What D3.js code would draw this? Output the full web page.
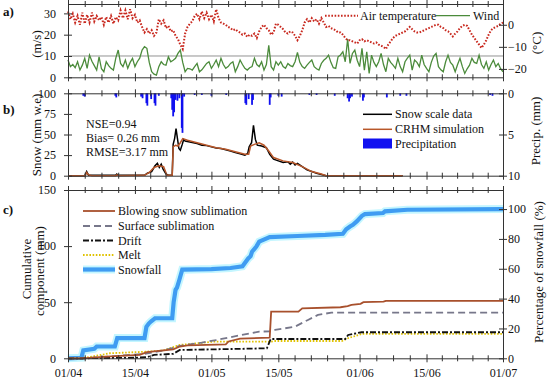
<!DOCTYPE html>
<html>
<head>
<meta charset="utf-8">
<script src="https://d3js.org/d3.v7.min.js"></script>
<style>
body { margin: 0; background: #fff; }
svg text { font-family: "Liberation Serif", "Times New Roman", serif; fill: #111; }
</style>
</head>
<body>
<div id="chart"></div>
<script>
// dates on the x axis (days from 1 April)
var tickDays = [0, 14, 30, 44, 61, 75, 91];
var tickLabels = ["01/04", "15/04", "01/05", "15/05", "01/06", "15/06", "01/07"];

// a) half-daily wind (m/s) and air temperature (C), starting 1 April
var windMs = [
  8.1,5,6,4.5,7.3,3.4,5.7,8.9,4.2,10.4,
  7.5,5.5,3.4,9.6,4,2.6,7.3,5.5,4.2,3.4,
  9,12.8,6.5,5,8.1,4.2,7,8.9,5,7.3,
  9,12.8,14.4,13.6,7,2.6,1.5,1,5,7.3,
  6,5.7,9.6,7.3,8,8.9,11.2,12.8,7,2.6,
  4.2,4,3.4,5,6.5,2.6,3.5,5,6.5,7.3,
  4.2,6,8.1,5,8.9,6,4.2,5,6.5,7.3,
  2.6,5,8.1,6,4.2,3.4,4.5,5,8.9,6,
  5,7.3,3.4,6,15,5,3.4,7.3,5.7,7.3,
  5,4.2,6.5,5.5,5,7.3,11.7,7,5,4.2,
  5.7,7,8.1,5,4,3.4,6.5,8,8.9,10.4,
  7,4.5,4.2,9.6,10.5,12,7.3,18,6.5,11.2,
  12.8,8,5,13.6,3.4,12,1.8,10.4,7,5,
  7.3,11.2,6,2.6,8.9,7,5.7,4.2,8.9,5,
  2.6,7.3,9,10.4,3.4,8.1,7,5,10.4,6,
  4.2,2.6,7,10,11.2,5,3.5,2.6,7.3,10.4,
  7,5.7,2.6,6,8.9,5,1.8,4,5.7,8.9,
  7,6.5,10.4,6,4.2,7.3,3.4,6,8.1,5,
  6.5,4,2.6
];
var airTempC = [
  6,2.5,5,1,4,0,5.5,0.5,4.5,1,
  5.5,1.5,4,2,3.5,0,3.5,1,4,0.5,
  3.5,2,6.5,3,6.5,2.5,7,3,4.5,1,
  2,-1,-3.5,-2,-4,-2.5,-5,-3.5,2.5,0.5,
  2,-1.5,-0.5,-3,-2.5,-5,-6.5,-9,-11,-4,
  -1,0.5,1.5,4,5,2.5,6,3,5.5,2.5,
  4.5,1.5,7,3,1,0.5,0,-1,-1.5,-2.5,
  -2,-3,-3.5,-4.5,-4,-5.5,-4.5,-5,-4,-6,
  -3,-1,0,-1.5,-2.5,-4.5,-3.5,0.5,0,-1,
  -2,-3.5,-4,-3,-3.5,-5,-7,-5,-2.5,1,
  2.5,1,3,1.5,2.5,0.5,3,1,-1,-0.5,
  -1.5,-2,-2.5,-3.5,-3.5,-4.5,-6,-7,-7,-7.5,
  -8,-8.5,-7,-6.5,-7.5,-7,-7.5,-8,-8.5,-8,
  -9,-9.5,-10,-11,-9,-7.5,-6,-5,-4.5,-4,
  -3.5,-3,-2,-1,-2,-3,-3.5,-3.5,-3,-2.5,
  -2,-1.5,-1,-0.5,0,0,-1,-1.5,-2.5,-3,
  -4,-5.3,-4,-3,-1.5,-0.5,0,-0.5,-2.5,-4.5,
  -6,-7.5,-9,-10.5,-9,-7,-4.5,-2.5,-1.5,-1,
  -0.5,0.5,1
];

// b) snow water equivalent (mm) and precipitation (mm)
var obsDay  = [0,3.5,3.9,4.3,10,10.2,10.5,16,16.6,17.5,18.2,18.7,19.1,19.5,19.9,20.5,21,21.8,22,22.3,22.6,22.9,23.2,23.5,23.9,24.2,24.5,25.5,27,28,29,30,31,32,33,34,35,36,37,37.6,37.9,38.4,38.8,39.2,39.6,40.5,41.5,42.2,43,44,45,46,46.5,47,47.5,48,49,50,51,52,53,54,70];
var obsSnow = [0,0,5,0.5,0.5,2,0.5,0.5,3,5,12,15,10,14,8,2,0.5,0.5,38,45,57,45,33,31,38,44,42,41,39,37,36.5,35,33.5,33,31.5,30,28,26.5,25,27,35,40,61,44,37,36,34,26,20,18,16,17,14,16.5,13,15,11,7,5,3,1.5,0,0];
var simDay  = [0,3.6,3.9,4.3,5,10,10.2,10.6,16,17,18,19,20,20.7,21.8,22,22.5,23,23.5,24,25,27,29,31,33,35,37,37.8,38.2,39,40,41,42,43,45,47,49,51,53,54,70];
var simSnow = [0,0,4,1,0,0,1,0,0.5,4,10,12,11,0.5,0.5,35,37,36,40,45,43,40,37,34,32,29,26,26,36,38,40,37,30,22,18,16,11,5,2,0,0];
var precipDay = [3.2,3.5,9.9,10.1,15.3,15.6,16.4,16.6,17.4,18.1,18.3,19,21.6,21.8,22,22.2,22.5,22.9,23.3,23.8,23.95,24.3,26.5,28,30,33.1,37.1,37.3,37.8,38.5,38.7,42.2,42.4,44,44.7,50.5,52,55.8,58.5,58.8,59,59.4,61.7,61.9,66.7,69.5,70.8,88.3,88.8];
var precipMm  = [0.3,0.4,0.3,0.5,0.4,0.6,1.2,1.5,0.7,1.2,1.5,0.3,0.6,2,2.8,2.3,0.8,0.9,0.6,4.2,4.8,0.4,0.2,0.2,0.3,0.2,1.2,1.4,0.7,1.4,0.8,1.4,0.5,0.3,0.4,0.2,0.2,0.3,0.6,1,0.6,0.4,0.9,0.5,0.5,0.3,0.3,0.2,0.3];

// c) cumulative components (mm)
var blowDay = [0,3,8,15,16.5,22,23.4,25,33,33.6,36,42.2,42.5,48.2,49,57,58.5,59.3,61.2,61.8,66,66.5,91];
var blowMm  = [0,0,1.5,3,5.5,8,10.5,11.5,12.5,15,17.5,18.5,41.6,41.6,44.5,45.5,46.5,47.6,48.5,50,50.5,51.2,51.2];
var surfDay = [0,3,10,16,20,23.4,28,31,34.6,40,42.3,43.3,47.5,50.2,52.3,55.1,91];
var surfMm  = [0,0,2,4,7,11,14,16.3,19.3,23.8,24,25.3,28.2,34.2,38.7,40.7,40.7];
var driftDay = [0,3,14,16.5,18,22,23.4,41.6,42.4,58,58.6,61.4,91];
var driftMm  = [0,0,0.5,1,3,4,7.4,8.9,17.2,17.2,20.8,23.2,23.2];
var meltDay = [0,3,8.8,16.5,20,23.4,30.4,42.3,43.3,57.3,58.6,61.4,91];
var meltMm  = [0,0,4.5,5.9,7,11.9,14.8,14.8,15.4,15.4,17.9,21.7,21.7];
var snowfallDay = [0,2.8,3.2,5.5,6,9.8,10.3,16,16.4,16.9,17.4,18.2,21.8,22.1,22.5,22.8,23.3,23.9,30,34,36.5,37,37.7,38.2,38.5,39.4,40,42.2,48,53.8,57.5,58.2,59,59.6,60.4,61.5,62.1,65.9,66.3,71,91];
var snowfallMm  = [0,0.5,7,8.5,10.5,10.5,18,18,28,31,33,35.7,35.7,50,61,63,70,79,79.5,80.5,82,85,89,91,95,99.5,104,108,109,110,111,115,117.5,119,122,127,128.5,129.5,131,132.4,133];

var width = 550, height = 381;
var svg = d3.select("#chart").append("svg")
    .attr("width", width)
    .attr("height", height);

var x = d3.scaleLinear().domain([0, 91]).range([68, 503]);
var aTop = 4, aBot = 77.3, bTop = 93.3, bBot = 175.7, cTop = 190, cBot = 358.3;

var minorDays = [];
tickDays.forEach(function(d, i) {
    if (i == 0) return;
    var a = tickDays[i - 1], n = Math.round((d - a) / 3.3);
    for (var k = 1; k < n; k++) minorDays.push(a + (d - a) * k / n);
});

function styleAxis(g) {
    g.attr("font-family", "Liberation Serif, Times New Roman, serif")
     .attr("font-size", 12);
    g.selectAll("path, line").attr("stroke", "#333");
    g.selectAll("text").attr("fill", "#111");
}

// horizontal edge with crossing ticks
function xEdge(y, labels) {
    var g1 = svg.append("g").attr("transform", "translate(0," + y + ")")
        .call(d3.axisBottom(x).tickValues(tickDays).tickSize(4).tickSizeOuter(0).tickPadding(6)
            .tickFormat(function(d, i) { return labels ? tickLabels[i] : ""; }))
        .call(styleAxis);
    g1.selectAll(".tick line").attr("y1", -4);
    var g2 = svg.append("g").attr("transform", "translate(0," + y + ")")
        .call(d3.axisBottom(x).tickValues(minorDays).tickSize(3).tickSizeOuter(0).tickFormat(""))
        .call(styleAxis);
    g2.selectAll(".tick line").attr("y1", -3);
    g2.select(".domain").remove();
}

function yLeft(scale, values) {
    var g = svg.append("g").attr("transform", "translate(68,0)")
        .call(d3.axisLeft(scale).tickValues(values).tickSize(4).tickSizeOuter(0).tickPadding(8))
        .call(styleAxis);
    g.selectAll(".tick line").attr("x1", 4);
}

function yRight(scale, values) {
    var g = svg.append("g").attr("transform", "translate(503,0)")
        .call(d3.axisRight(scale).tickValues(values).tickSize(4).tickSizeOuter(0).tickPadding(1))
        .call(styleAxis);
    g.selectAll(".tick line").attr("x1", -4);
}

// ---------- a) ----------
var wind = d3.scaleLinear().domain([0, 34.4]).range([aBot, aTop]);
var temp = d3.scaleLinear().domain([-23.8, 9.4]).range([aBot, aTop]);

svg.append("line").attr("x1", 68).attr("x2", 503)
    .attr("y1", wind(10)).attr("y2", wind(10))
    .attr("stroke", "#777").attr("stroke-width", 0.8);

svg.append("path").datum(windMs)
    .attr("fill", "none").attr("stroke", "#4b8b3b").attr("stroke-width", 1.3)
    .attr("d", d3.line().x(function(d, i) { return x(i * 0.5); }).y(function(d) { return wind(d); }));

svg.append("path").datum(airTempC)
    .attr("fill", "none").attr("stroke", "#c8281e").attr("stroke-width", 2)
    .attr("stroke-dasharray", "1.6,1.6")
    .attr("d", d3.line().x(function(d, i) { return x(i * 0.5); }).y(function(d) { return temp(d); }));

xEdge(aTop, false);
xEdge(aBot, false);
yLeft(wind, [0, 10, 20, 30]);
yRight(temp, [-20, -10, 0]);

// legend a
svg.append("line").attr("x1", 325).attr("x2", 358).attr("y1", 15.7).attr("y2", 15.7)
    .attr("stroke", "#c8281e").attr("stroke-width", 2).attr("stroke-dasharray", "1.6,1.6");
svg.append("text").attr("x", 360).attr("y", 20).attr("font-size", 12).text("Air temperature");
svg.append("line").attr("x1", 436).attr("x2", 470).attr("y1", 15.7).attr("y2", 15.7)
    .attr("stroke", "#4b8b3b").attr("stroke-width", 1.3);
svg.append("text").attr("x", 473).attr("y", 20).attr("font-size", 12).text("Wind");

// ---------- b) ----------
var snow = d3.scaleLinear().domain([0, 100]).range([bBot, bTop]);
var precip = d3.scaleLinear().domain([0, 10]).range([bTop, bBot]);

svg.selectAll(".pbar").data(precipDay).enter().append("rect")
    .attr("class", "pbar")
    .attr("x", function(d) { return x(d) - 0.9; })
    .attr("width", 1.8)
    .attr("y", precip(0))
    .attr("height", function(d, i) { return precip(precipMm[i]) - precip(0); })
    .attr("fill", "#1010f0");

var simLine = d3.line().x(function(d, i) { return x(simDay[i]); }).y(function(d) { return snow(d); });
var obsLine = d3.line().x(function(d, i) { return x(obsDay[i]); }).y(function(d) { return snow(d); });
svg.append("path").datum(obsSnow).attr("fill", "none").attr("stroke", "#000").attr("stroke-width", 1.5).attr("d", obsLine);
svg.append("path").datum(simSnow).attr("fill", "none").attr("stroke", "#b8572a").attr("stroke-width", 1.5).attr("d", simLine);

xEdge(bTop, false);
xEdge(bBot, false);
yLeft(snow, [0, 25, 50, 75, 100]);
yRight(precip, [0, 5, 10]);

svg.append("text").attr("x", 86).attr("y", 128).attr("font-size", 12).text("NSE=0.94");
svg.append("text").attr("x", 86).attr("y", 142).attr("font-size", 12).text("Bias= 0.26 mm");
svg.append("text").attr("x", 86).attr("y", 156).attr("font-size", 12).text("RMSE=3.17 mm");

svg.append("line").attr("x1", 363).attr("x2", 392).attr("y1", 114.3).attr("y2", 114.3)
    .attr("stroke", "#000").attr("stroke-width", 1.5);
svg.append("text").attr("x", 395).attr("y", 118).attr("font-size", 12).text("Snow scale data");
svg.append("line").attr("x1", 363).attr("x2", 392).attr("y1", 129.3).attr("y2", 129.3)
    .attr("stroke", "#b8572a").attr("stroke-width", 1.5);
svg.append("text").attr("x", 395).attr("y", 133).attr("font-size", 12).text("CRHM simulation");
svg.append("rect").attr("x", 363).attr("y", 138.5).attr("width", 29).attr("height", 10)
    .attr("fill", "#1010f0");
svg.append("text").attr("x", 395).attr("y", 147.5).attr("font-size", 12).text("Precipitation");

// ---------- c) ----------
var cum = d3.scaleLinear().domain([0, 150]).range([cBot, cTop]);
var pct = d3.scaleLinear().domain([0, 150 / snowfallMm[snowfallMm.length - 1] * 100]).range([cBot, cTop]);

function cumPath(days, vals, color, w, dash) {
    var p = svg.append("path").datum(vals)
        .attr("fill", "none").attr("stroke", color).attr("stroke-width", w)
        .attr("d", d3.line().x(function(d, i) { return x(days[i]); }).y(function(d) { return cum(d); }));
    if (dash) p.attr("stroke-dasharray", dash);
    return p;
}

cumPath(snowfallDay, snowfallMm, "#c4f6ff", 8);
cumPath(snowfallDay, snowfallMm, "#3f9cf2", 4.2);
cumPath(meltDay, meltMm, "#e0c200", 1.8, "1.6,1.6");
cumPath(surfDay, surfMm, "#77778a", 1.8, "7,4");
cumPath(driftDay, driftMm, "#111", 1.8, "6,2,2,2");
cumPath(blowDay, blowMm, "#a8502c", 1.8);

xEdge(cTop, false);
xEdge(cBot, true);
yLeft(cum, [0, 50, 100, 150]);
yRight(pct, [0, 20, 40, 60, 80, 100]);

var legC = [
    { t: "Blowing snow sublimation", c: "#a8502c", w: 1.8, dash: null },
    { t: "Surface sublimation", c: "#77778a", w: 1.8, dash: "7,4" },
    { t: "Drift", c: "#111", w: 1.8, dash: "6,2,2,2" },
    { t: "Melt", c: "#e0c200", w: 1.8, dash: "1.6,1.6" },
    { t: "Snowfall", c: "#3f9cf2", w: 4.2, dash: null }
];
var legY = [211, 226, 240.5, 255, 269.5];
legC.forEach(function(l, i) {
    if (l.t == "Snowfall") {
        svg.append("line").attr("x1", 83).attr("x2", 115).attr("y1", legY[i]).attr("y2", legY[i])
            .attr("stroke", "#c4f6ff").attr("stroke-width", 8);
    }
    var ln = svg.append("line").attr("x1", 83).attr("x2", 115).attr("y1", legY[i]).attr("y2", legY[i])
        .attr("stroke", l.c).attr("stroke-width", l.w);
    if (l.dash) ln.attr("stroke-dasharray", l.dash);
    svg.append("text").attr("x", 118).attr("y", legY[i] + 4).attr("font-size", 12).text(l.t);
});

// panel letters
[["a)", 16], ["b)", 114], ["c)", 214]].forEach(function(p) {
    svg.append("text").attr("x", 3).attr("y", p[1]).attr("font-size", 13)
        .attr("font-weight", "bold").text(p[0]);
});

// axis titles
function vTitle(txt, cx, cy) {
    svg.append("text").attr("transform", "translate(" + cx + "," + cy + ") rotate(-90)")
        .attr("text-anchor", "middle").attr("font-size", 13).text(txt);
}
vTitle("(m/s)", 41, 44);
vTitle("Snow (mm w.e)", 41, 135);
vTitle("Cumulative", 31, 269);
vTitle("component (mm)", 44, 271);
vTitle("(\u00B0C)", 541, 43);
vTitle("Precip. (mm)", 540, 131);
vTitle("Percentage of snowfall (%)", 543, 272);
</script>
</body>
</html>
